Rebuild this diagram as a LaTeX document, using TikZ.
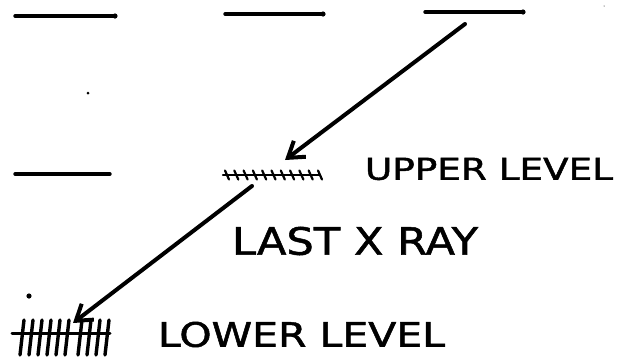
\documentclass[tikz,border=0pt]{standalone}
\usepackage{fontspec}
\setmainfont{DejaVu Sans}
\newfontfamily\handfont[FakeBold=1.3]{DejaVu Sans}
\usetikzlibrary{arrows.meta}
\begin{document}
\begin{tikzpicture}[x=1pt,y=-1pt,
  pen/.style={line width=3.4pt,line cap=round,line join=round},
  ray/.style={line width=4pt,line cap=round,
    -{Straight Barb[length=15pt,width=20pt,line width=4pt]}},
  hatch/.style={line width=2.2pt,line cap=round},
  label/.style={inner sep=0pt,anchor=center,font=\handfont},
  speck/.style={fill=black}]
\useasboundingbox (0,0) rectangle (622,357);
% top level lines
\coordinate (t1a) at (15,16);  \coordinate (t1b) at (115,16);
\coordinate (t2a) at (225,14); \coordinate (t2b) at (323,14);
\coordinate (t3a) at (425,12); \coordinate (t3b) at (523,12);
\draw[pen] (t1a) -- (t1b);
\draw[pen] (t2a) -- (t2b);
\draw[pen] (t3a) -- (t3b);
\fill (t1b) circle (2.6pt); \fill (t2b) circle (2.6pt); \fill (t3b) circle (2.6pt);
% middle left line
\coordinate (m1a) at (15,174); \coordinate (m1b) at (110,174);
\draw[pen] (m1a) -- (m1b);
% upper level hatch
\coordinate (uha) at (223,175); \coordinate (uhb) at (320,175);
\draw[line width=2.4pt,line cap=round] (uha) -- (uhb);
\foreach \i in {0,...,10}
  \draw[hatch] ([xshift=\i*9.3pt+2pt,yshift=4.5pt]uha) -- ([xshift=\i*9.3pt+6pt,yshift=-4.5pt]uha);
% lower level hatch
\coordinate (lha) at (12,333); \coordinate (lhb) at (110,333);
\draw[line width=3pt,line cap=round] (lha) -- (lhb);
\foreach \x in {22,31,40,49,58,67,80,89,98,107}
  \draw[line width=3.4pt,line cap=round] (\x-2,355) -- (\x+2,320);
% rays
\coordinate (r1s) at (465,24);  \coordinate (r1e) at (285,160);
\coordinate (r2s) at (252,186); \coordinate (r2e) at (73,323);
\draw[ray] (r1s) -- (r1e);
\draw[ray] (r2s) -- (r2e);
% specks
\fill[speck] (88,93) circle (1.5pt);
\fill[speck] (29,296) circle (2.6pt);
\fill[speck] (604,6) circle (0.5pt);
% labels
\node[label] (upper) at (489,169) {\resizebox{248pt}{22pt}{UPPER LEVEL}};
\node[label] (last)  at (355,241) {\resizebox{246pt}{28pt}{LAST X RAY}};
\node[label] (lower) at (301.5,334.5) {\resizebox{287pt}{25pt}{LOWER LEVEL}};
\end{tikzpicture}
\end{document}
